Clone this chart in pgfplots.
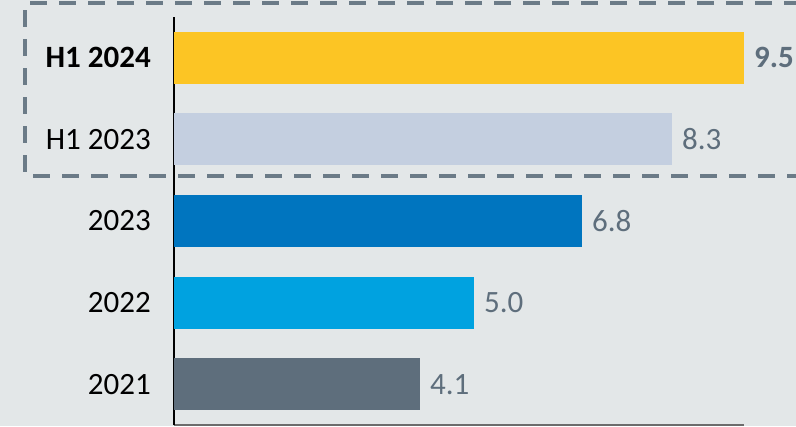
\documentclass[border=0pt]{standalone}
\usepackage{pgfplots}
\pgfplotsset{compat=1.18}
\usepackage{fontspec}
\setmainfont{Carlito}[BoldFont={Carlito Bold}, ItalicFont={Carlito Italic}]
\definecolor{bg}{HTML}{E3E7E8}
\definecolor{dashc}{HTML}{6B7B87}
\definecolor{cA}{HTML}{FCC524}
\definecolor{cB}{HTML}{C4CFE0}
\definecolor{cC}{HTML}{0075BF}
\definecolor{cD}{HTML}{00A2E0}
\definecolor{cE}{HTML}{5E6E7C}
\definecolor{valc}{HTML}{5E6E7C}
\begin{document}
\begin{tikzpicture}[x=1bp,y=1bp]
\useasboundingbox (0,0) rectangle (796,426);
\fill[bg] (0,0) rectangle (796,426);
\begin{axis}[
  at={(174bp,1bp)}, anchor=south west,
  scale only axis, width=570bp, height=408bp,
  xmin=0, xmax=9.5, ymin=-0.5, ymax=4.5,
  xbar, bar width=52bp, bar shift=0pt,
  axis x line*=bottom, axis y line*=left,
  axis line style={-},
  x axis line style={draw=gray!85!black, line width=1.2bp},
  y axis line style={draw=black, line width=2bp},
  xtick=\empty,
  ytick={0,1,2,3,4},
  yticklabels={2021,2022,2023,H1 2023,\textbf{H1 2024}},
  major tick length=0pt,
  yticklabel style={font=\fontsize{31bp}{36bp}\selectfont, text=black, inner sep=0pt, xshift=-23bp},
  /pgf/number format/assume math mode=true,
  nodes near coords={\pgfmathprintnumber[fixed,fixed zerofill,precision=1]{\pgfplotspointmeta}},
  nodes near coords style={font=\fontsize{31bp}{36bp}\selectfont\upshape, text=valc, inner sep=0pt, anchor=west, xshift=10bp},
  clip=false,
]
\addplot[fill=cE, draw=none] coordinates {(4.1,0)};
\addplot[fill=cD, draw=none] coordinates {(5.0,1)};
\addplot[fill=cC, draw=none] coordinates {(6.8,2)};
\addplot[fill=cB, draw=none] coordinates {(8.3,3)};
\addplot[fill=cA, draw=none, nodes near coords style={font=\fontsize{31bp}{36bp}\selectfont\bfseries\upshape}] coordinates {(9.5,4)};
\end{axis}
\draw[dashc, line width=3.3bp, dash pattern=on 17bp off 12bp] (830,423) -- (25,423) -- (25,250) -- (830,250);
\end{tikzpicture}
\end{document}
